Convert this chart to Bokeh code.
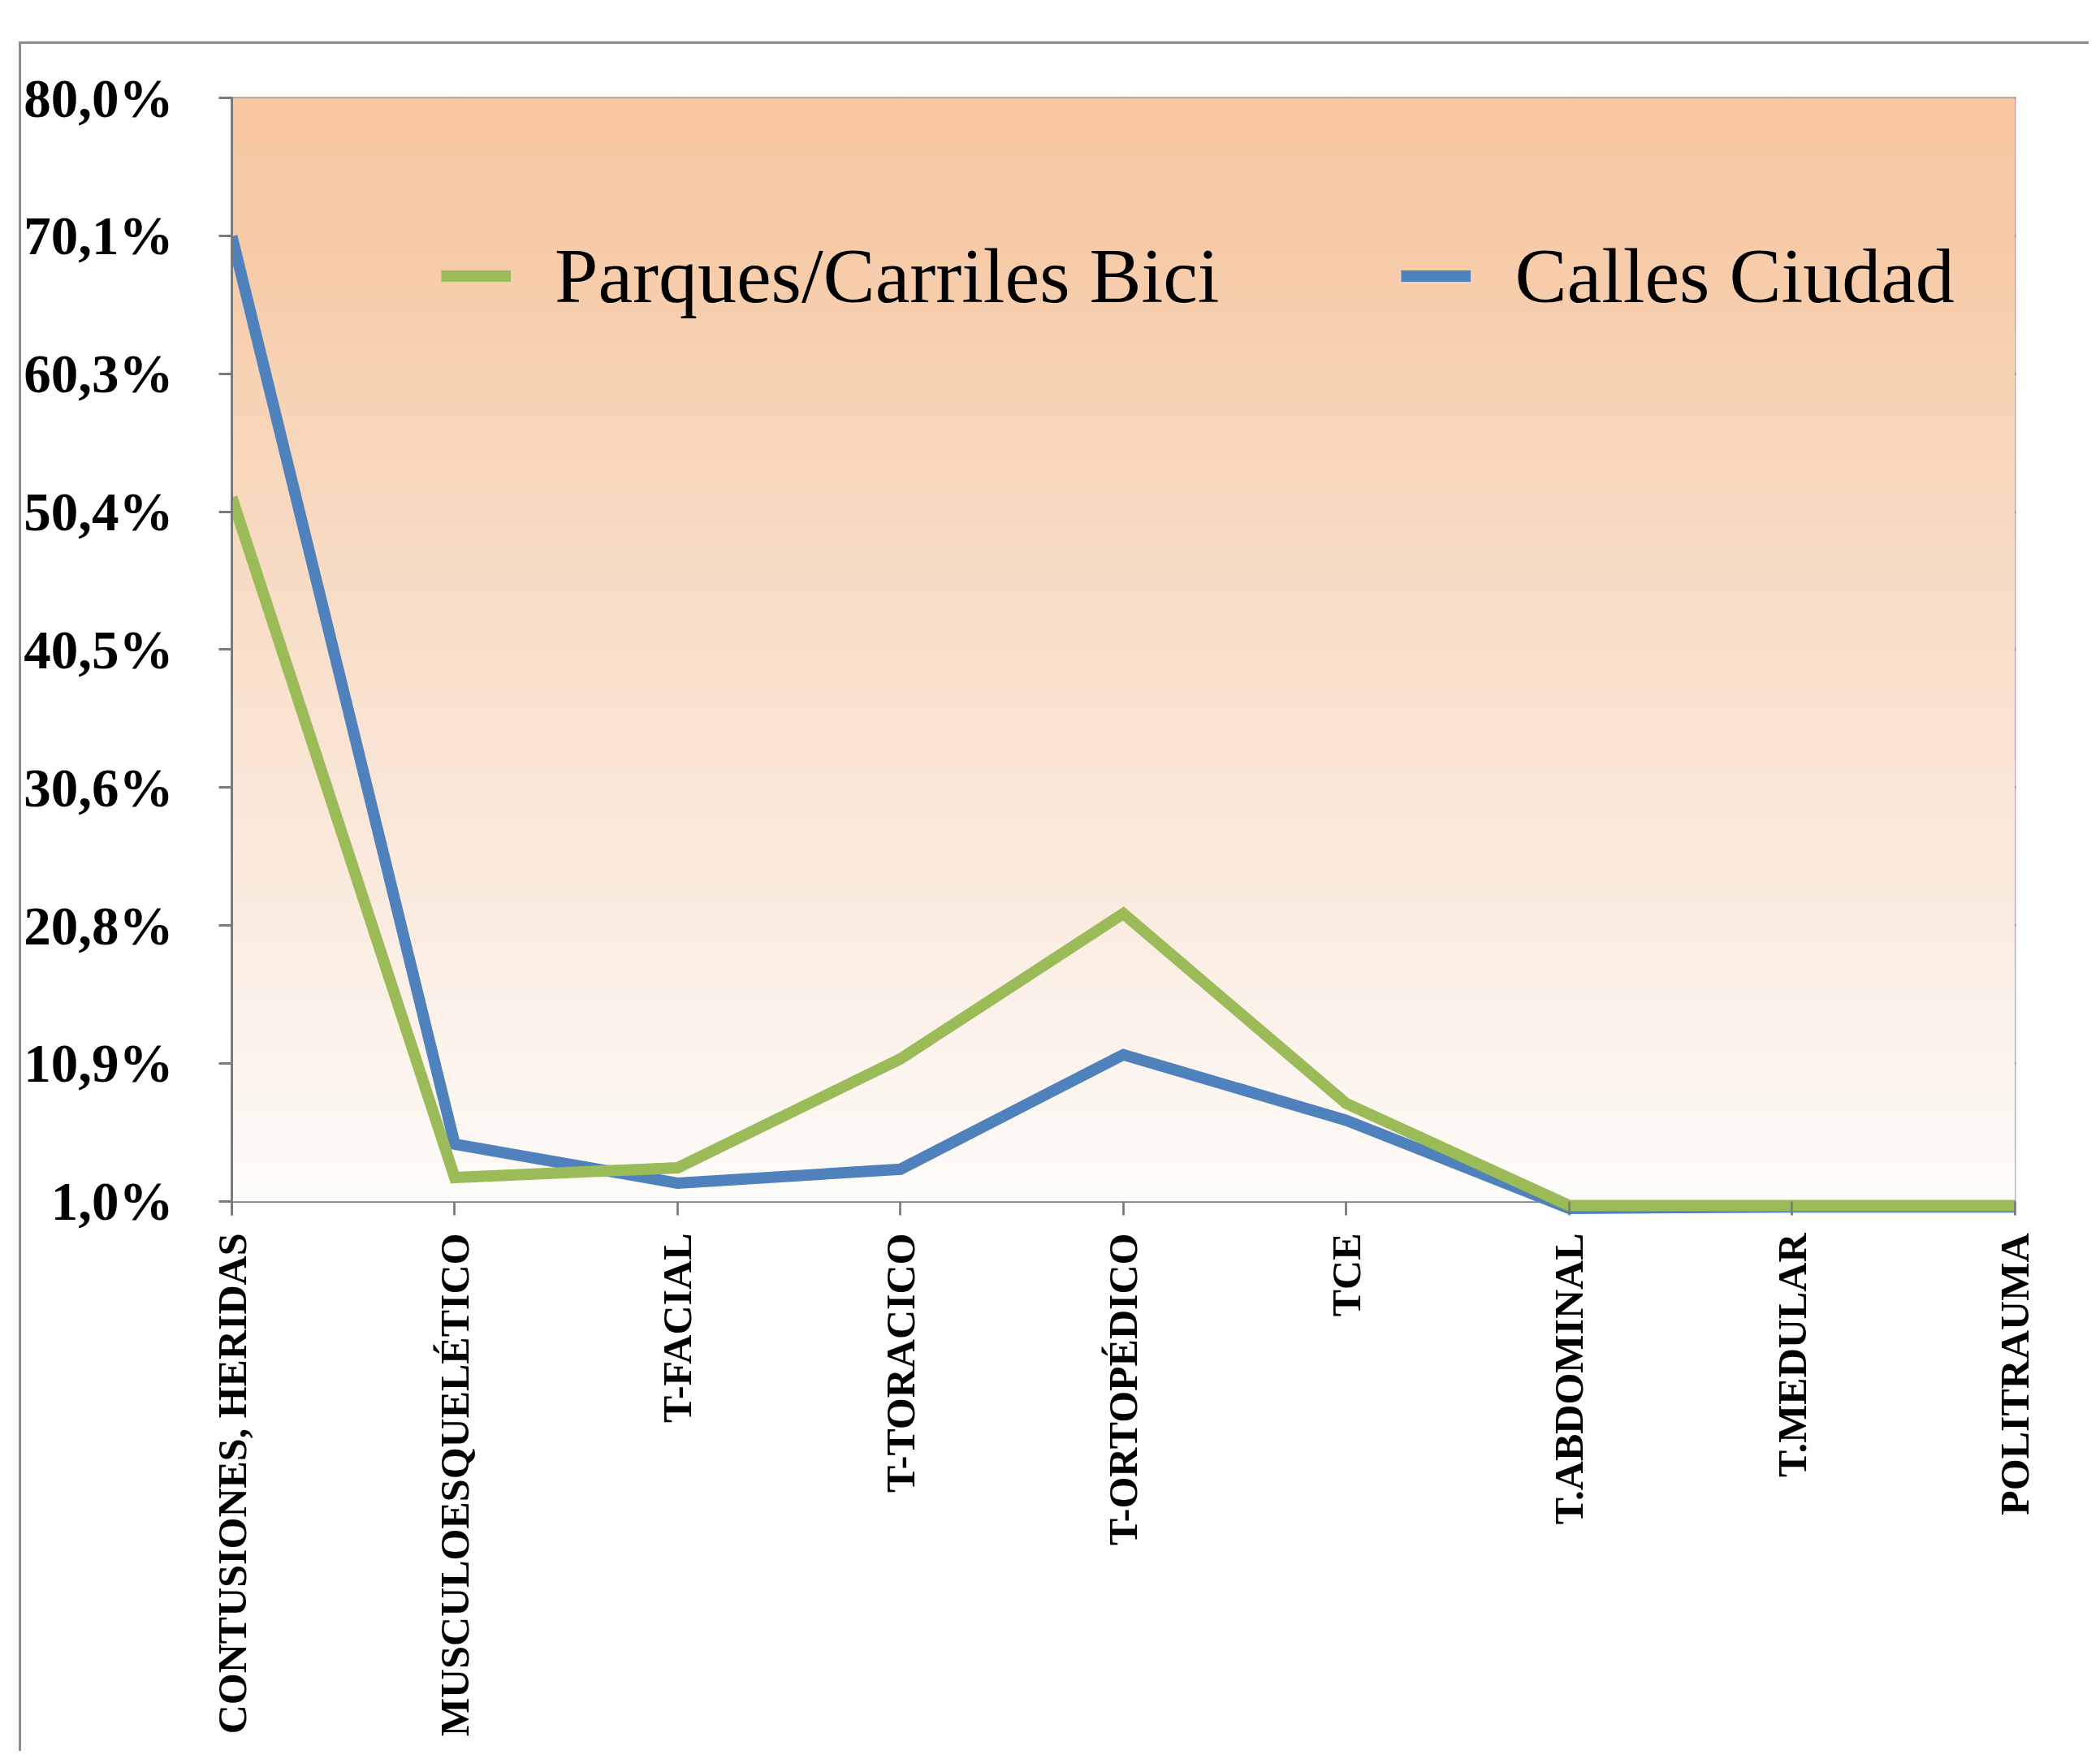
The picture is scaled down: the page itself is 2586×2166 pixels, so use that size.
import math
import numpy as np
from bokeh.plotting import figure
from bokeh.models import Range1d, FixedTicker, Legend, LegendItem
from bokeh.embed import file_html
from bokeh.resources import INLINE

categories = ["CONTUSIONES, HERIDAS", "MUSCULOESQUELÉTICO", "T-FACIAL", "T-TORACICO",
              "T-ORTOPÉDICO", "TCE", "T.ABDOMINAL", "T.MEDULAR", "POLITRAUMA"]
parques = [51.4, 2.7, 3.4, 11.2, 21.6, 8.0, 0.7, 0.7, 0.7]
calles = [70.1, 5.1, 2.3, 3.3, 11.5, 6.8, 0.5, 0.6, 0.6]
series_names = ["Parques/Carriles Bici", "Calles Ciudad"]
y_ticks = [1.0, 10.875, 20.75, 30.625, 40.5, 50.375, 60.25, 70.125, 80.0]
y_tick_labels = ["1,0%", "10,9%", "20,8%", "30,6%", "40,5%", "50,4%", "60,3%", "70,1%", "80,0%"]

x = list(range(len(categories)))

p = figure(frame_width=2197, frame_height=1377,
           min_border_left=257, min_border_top=65, min_border_right=90, min_border_bottom=660,
           x_range=Range1d(0, len(categories) - 1 + 0.005),
           y_range=Range1d(0.0, y_ticks[-1] + 0.06),
           output_backend="svg", toolbar_location=None,
           background_fill_color="white", border_fill_color="white")
p.outline_line_color = None
p.styles = {"margin-left": "23px", "margin-top": "51px",
            "border-left": "3px solid #8c8c8c", "border-top": "3px solid #8c8c8c"}

# gradient plot-area background (style only)
n = 256
frac = np.linspace(0, 1, n)
stops_f = [0.0, 0.25, 0.5, 0.75, 0.87, 1.0]
stops_c = np.array([(254, 252, 250), (251, 237, 226), (249, 224, 204),
                    (248, 211, 180), (247, 203, 168), (246, 199, 160)], dtype=float)
rgb = np.stack([np.interp(frac, stops_f, stops_c[:, k]) for k in range(3)], axis=1).astype(np.uint32)
img = np.zeros((n, 1), dtype=np.uint32)
img[:, 0] = (255 << 24) | (rgb[:, 2] << 16) | (rgb[:, 1] << 8) | rgb[:, 0]
p.image_rgba(image=[img], x=x[0], y=y_ticks[0], dw=x[-1] - x[0], dh=y_ticks[-1] - y_ticks[0])

# grids
p.ygrid.ticker = FixedTicker(ticks=y_ticks)
p.ygrid.grid_line_color = "#7a7a7a"
p.ygrid.grid_line_width = 3
p.xgrid.ticker = FixedTicker(ticks=x)
p.xgrid.grid_line_color = "#a99fd4"
p.xgrid.grid_line_width = 2.5

# lines
b = p.line(x, calles, line_color="#4F81BD", line_width=14, line_join="miter")
g = p.line(x, parques, line_color="#9BBB59", line_width=14, line_join="miter")

# y axis
ya = p.yaxis[0]
ya.ticker = FixedTicker(ticks=y_ticks)
ya.major_label_overrides = {t: l for t, l in zip(y_ticks, y_tick_labels)}
ya.axis_line_color = "#7a7a7a"
ya.axis_line_width = 3
ya.major_tick_line_color = "#7a7a7a"
ya.major_tick_line_width = 3
ya.major_tick_out = 16
ya.major_tick_in = 0
ya.minor_tick_line_color = None
ya.major_label_standoff = 56
ya.major_label_text_font = "Liberation Serif"
ya.major_label_text_font_style = "bold"
ya.major_label_text_font_size = "67px"
ya.major_label_text_color = "black"

# x axis
xa = p.xaxis[0]
xa.ticker = FixedTicker(ticks=x)
xa.major_label_overrides = {i: c for i, c in zip(x, categories)}
xa.major_label_orientation = math.pi / 2
xa.axis_line_color = None
xa.major_tick_line_color = "#7a7a7a"
xa.major_tick_line_width = 2.5
xa.major_tick_in = 17
xa.major_tick_out = 0
xa.minor_tick_line_color = None
xa.major_label_standoff = 22
xa.major_label_text_font = "Liberation Serif"
xa.major_label_text_font_style = "bold"
xa.major_label_text_font_size = "50px"
xa.major_label_text_color = "black"

legend = Legend(items=[LegendItem(label=series_names[0], renderers=[g]),
                       LegendItem(label=series_names[1], renderers=[b])],
                location=(258, 1101), orientation="horizontal",
                label_text_font="Liberation Serif", label_text_font_size="96px",
                label_text_color="black",
                glyph_width=86, glyph_height=15, label_standoff=54, spacing=224,
                padding=0, margin=0, border_line_color=None, background_fill_alpha=0)
p.add_layout(legend)

open("out.html", "w").write(file_html(p, INLINE))
